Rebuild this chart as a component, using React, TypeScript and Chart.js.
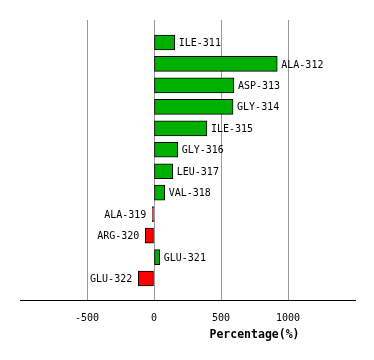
import React, { useEffect, useRef } from "react";
import { Chart, registerables } from "chart.js";

Chart.register(...registerables);

const categories = [
  "ILE-311", "ALA-312", "ASP-313", "GLY-314", "ILE-315", "GLY-316",
  "LEU-317", "VAL-318", "ALA-319", "ARG-320", "GLU-321", "GLU-322",
];
const values = [155, 920, 597, 590, 395, 177, 140, 80, -12, -65, 43, -118];
const xTicks = [-500, 0, 500, 1000];
const xMin = -1000;
const xMax = 1500;
const axisTitle = "Percentage(%)";

const GREEN = "#00b000";
const RED = "#ff0000";
const MONO = "'DejaVu Sans Mono', monospace";

export default function App() {
  const ref = useRef<HTMLCanvasElement | null>(null);

  useEffect(() => {
    const canvas = ref.current;
    if (!canvas) return;
    const labels = ["", ...categories, ""];
    const data = [null, ...values, null];

    const labelPlugin = {
      id: "barLabels",
      afterDatasetsDraw(chart: any) {
        const ctx = chart.ctx;
        const meta = chart.getDatasetMeta(0);
        ctx.save();
        ctx.font = `10px ${MONO}`;
        ctx.fillStyle = "#000";
        ctx.textBaseline = "middle";
        meta.data.forEach((el: any, i: number) => {
          const v = data[i];
          if (v === null || v === undefined) return;
          const name = labels[i];
          if (v >= 0) {
            ctx.textAlign = "left";
            ctx.fillText(name, el.x + 4, el.y + 1);
          } else {
            ctx.textAlign = "right";
            ctx.fillText(name, el.x - 6, el.y + 1);
          }
        });
        // axis title
        const xs = chart.scales.x;
        ctx.font = `bold 11.5px ${MONO}`;
        ctx.textAlign = "center";
        ctx.fillText(axisTitle, xs.getPixelForValue(750), 335);
        ctx.restore();
      },
    };

    const chart = new Chart(canvas, {
      type: "bar",
      data: {
        labels,
        datasets: [
          {
            data: data as any,
            backgroundColor: data.map((v) => ((v ?? 0) < 0 ? RED : GREEN)),
            borderColor: "#000",
            borderWidth: 1,
            borderSkipped: false,
            barThickness: 15,
          },
        ],
      },
      options: {
        indexAxis: "y",
        animation: false,
        responsive: false,
        layout: { padding: { left: 20, right: 19, top: 21, bottom: 0 } },
        plugins: { legend: { display: false }, tooltip: { enabled: false } },
        scales: {
          y: {
            type: "category",
            display: false,
            offset: false,
          },
          x: {
            type: "linear",
            min: xMin,
            max: xMax,
            afterFit: (s: any) => {
              s.height = 60;
            },
            afterBuildTicks: (s: any) => {
              s.ticks = [xMin, ...xTicks, xMax].map((v) => ({ value: v }));
            },
            ticks: {
              color: "#000",
              font: { family: MONO, size: 10 },
              padding: 12,
              maxRotation: 0,
              autoSkip: false,
              callback: (v: any) => (xTicks.includes(Number(v)) ? String(v) : ""),
            },
            grid: {
              drawTicks: false,
              lineWidth: 1,
              color: (c: any) =>
                c.tick && xTicks.includes(c.tick.value) ? "#999999" : "rgba(0,0,0,0)",
            },
            border: { display: true, color: "#000", width: 1 },
          },
        },
      },
      plugins: [
        labelPlugin,
        {
          id: "gridTop",
          beforeDraw(chart: any) {
            // extend grid lines 1px above chart area to start at the same top as reference
            const ctx = chart.ctx;
            const xs = chart.scales.x;
            ctx.save();
            ctx.strokeStyle = "#999999";
            ctx.lineWidth = 1;
            xTicks.forEach((t) => {
              const px = Math.round(xs.getPixelForValue(t)) + 0.5;
              ctx.beginPath();
              ctx.moveTo(px, chart.chartArea.top - 1);
              ctx.lineTo(px, chart.chartArea.top);
              ctx.stroke();
            });
            ctx.restore();
          },
        },
      ],
    });
    return () => chart.destroy();
  }, []);

  return (
    <div style={{ position: "absolute", left: 0, top: 0, width: 374, height: 360, background: "#fff" }}>
      <canvas ref={ref} width={374} height={360} style={{ display: "block" }} />
    </div>
  );
}
